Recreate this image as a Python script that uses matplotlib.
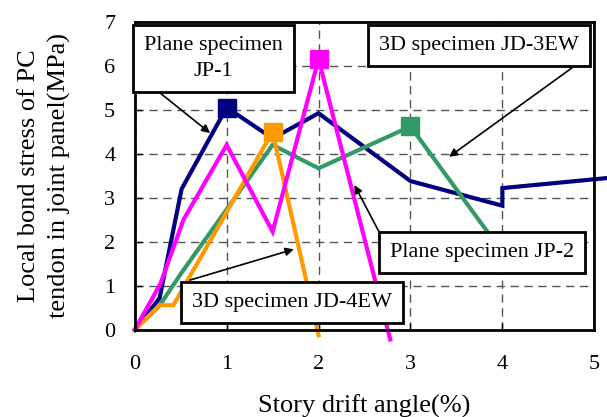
import matplotlib.pyplot as plt

## Data
drift_jp1 = [0, 0.27, 0.51, 1.0, 1.5, 2.0, 3.0, 4.0, 4.0, 5.15]
stress_jp1 = [0, 0.72, 3.2, 5.05, 4.35, 4.92, 3.38, 2.82, 3.22, 3.45]

drift_jp2 = [0, 0.28, 0.53, 1.0, 1.5, 2.0, 2.78]
stress_jp2 = [0, 1.05, 2.5, 4.2, 2.23, 6.15, -0.22]

drift_jd4 = [0, 0.27, 0.42, 1.5, 2.0]
stress_jd4 = [0, 0.56, 0.56, 4.5, -0.12]

drift_jd3 = [0, 0.27, 0.51, 1.5, 2.0, 3.0, 3.9]
stress_jd3 = [0, 0.55, 1.3, 4.2, 3.67, 4.62, 2.05]

# peak markers (x index into each series)
peak_jp1 = 3
peak_jp2 = 5
peak_jd4 = 3
peak_jd3 = 5

plt.rcParams['font.family'] = ['Liberation Serif', 'DejaVu Serif']
FS = 16
FS_LABEL = 19

fig = plt.figure(figsize=(6.07, 4.17), dpi=100)
ax = fig.add_axes([0.222, 0.209, 0.757, 0.739])

series = [
    (drift_jp1, stress_jp1, peak_jp1, '#000080'),
    (drift_jd3, stress_jd3, peak_jd3, '#339966'),
    (drift_jd4, stress_jd4, peak_jd4, '#FF9900'),
    (drift_jp2, stress_jp2, peak_jp2, '#FF00FF'),
]
for x, y, pk, c in series:
    ax.plot(x, y, color=c, lw=3, clip_on=False, zorder=3, solid_joinstyle='miter')
    ax.plot([x[pk]], [y[pk]], marker='s', ms=13, color=c, clip_on=False, zorder=4)

ax.set_xlim(0, 5)
ax.set_ylim(0, 7)
ax.set_xticks(range(0, 6))
ax.set_yticks(range(0, 8))
ax.grid(True, ls=(0, (6, 4)), color='#555555', lw=1)
ax.set_axisbelow(True)
for s in ax.spines.values():
    s.set_linewidth(2)
    s.set_zorder(5)
ax.tick_params(direction='in', length=5, width=1, labelsize=FS)
ax.tick_params(axis='x', pad=18)
ax.tick_params(axis='y', pad=14)

ax.set_xlabel("Story drift angle(%)", fontsize=FS_LABEL, labelpad=15)
ax.set_ylabel("Local bond stress of PC\ntendon in joint panel(MPa)", fontsize=FS_LABEL,
              linespacing=1.45)
ax.yaxis.label.set_verticalalignment('center')
ax.yaxis.set_label_coords(-0.196, 0.5)

## labels with arrows
box = dict(boxstyle='square,pad=0.5', fc='white', ec='black', lw=2)
labels = [
    ("Plane specimen\nJP-1", (0.855, 6.17), (0.276, 5.38), (0.82, 4.47)),
    ("3D specimen JD-3EW", (3.75, 6.46), (4.77, 5.97), (3.42, 3.93)),
    ("Plane specimen JP-2", (3.78, 1.75), (2.66, 2.22), (2.39, 3.29)),
    ("3D specimen JD-4EW", (1.71, 0.63), (0.60, 1.13), (1.73, 1.83)),
]
for txt, pos, start, tip in labels:
    ax.annotate('', xy=tip, xytext=start, zorder=6,
                arrowprops=dict(arrowstyle='-|>', color='black', lw=1.2,
                                mutation_scale=12, shrinkA=0, shrinkB=0))
    ax.text(pos[0], pos[1], txt, fontsize=FS, ha='center', va='center',
            bbox=box, zorder=7, clip_on=False, linespacing=1.5)

fig.savefig("out.png", dpi=100)
